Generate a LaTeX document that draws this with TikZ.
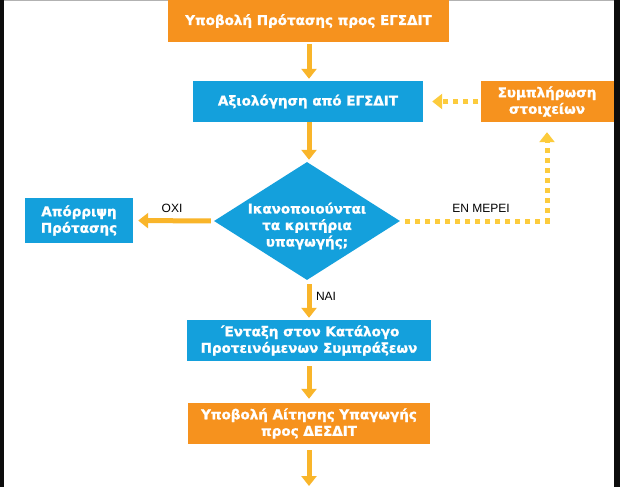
\documentclass[tikz,border=0pt]{standalone}
\usepackage{fontspec}
\setmainfont{Liberation Sans}
\newfontfamily\boxfont{DejaVu Sans Bold}[FakeBold=1.3]
\usetikzlibrary{arrows.meta,shapes.geometric}
\definecolor{boxorange}{HTML}{F6921E}
\definecolor{boxblue}{HTML}{14A0DC}
\definecolor{arrowy}{HTML}{F9B52A}
\definecolor{doty}{HTML}{FCCB3C}
\tikzset{
  boxbase/.style={draw=none, text=white, font=\boxfont\fontsize{13.5}{16.5}\selectfont, align=center, inner sep=0pt},
  obox/.style={boxbase, fill=boxorange},
  bbox/.style={boxbase, fill=boxblue},
  dtext/.style={text=white, font=\boxfont\fontsize{13.5}{16.5}\selectfont, align=center, inner sep=0pt},
  arr/.style={draw=arrowy, line width=5pt, -{Triangle[width=15pt,length=10pt]}},
  dotarr/.style={draw=doty, line width=5pt, dash pattern=on 5pt off 5pt, -{Triangle[width=15pt,length=10pt,fill=doty]}},
  lbl/.style={font=\fontsize{12}{14}\selectfont, text=black, inner sep=0pt}
}
\begin{document}
\begin{tikzpicture}[x=1pt,y=-1pt]
\useasboundingbox (0,0) rectangle (620,487);
\fill[white] (0,0) rectangle (620,487);
\fill[black!95] (0,0) rectangle (4,487);
\fill[black!95] (614,0) rectangle (620,487);
\draw[gray!60, line width=1pt] (4,0.5) -- (614,0.5);

\node[obox, minimum width=281, minimum height=42] (n1) at (308.5,21) {Υποβολή Πρότασης προς ΕΓΣΔΙΤ};
\node[bbox, minimum width=230, minimum height=41] (n2) at (308,101.5) {Αξιολόγηση από ΕΓΣΔΙΤ};
\node[obox, minimum width=133, minimum height=41] (n3) at (547,101.5) {Συμπλήρωση\\στοιχείων};
\node[diamond, fill=boxblue, draw=none, minimum width=186, minimum height=118, inner sep=0pt] (d) at (307,221) {};
\node[dtext] (dt) at (307,226) {Ικανοποιούνται\\τα κριτήρια\\υπαγωγής;};
\node[bbox, minimum width=108, minimum height=45] (n4) at (79,220.5) {Απόρριψη\\Πρότασης};
\node[bbox, minimum width=244, minimum height=41] (n5) at (309,340.5) {΄Ενταξη στον Κατάλογο\\Προτεινόμενων Συμπράξεων};
\node[obox, minimum width=242, minimum height=41] (n6) at (309,423.5) {Υποβολή Αίτησης Υπαγωγής\\προς ΔΕΣΔΙΤ};
\coordinate (end) at (309,486);

\node[lbl] (lno) at (172,208) {ΟΧΙ};
\node[lbl] (lpart) at (481,208) {ΕΝ ΜΕΡΕΙ};
\node[lbl] (lyes) at (326,296) {ΝΑΙ};

\draw[arr, shorten <=2pt, shorten >=2pt] (309,0 |- n1.south) -- (309,0 |- n2.north);
\draw[arr, shorten <=0pt, shorten >=2pt] (309,0 |- n2.south) -- (309,0 |- d.north);
\draw[arr, shorten <=3pt, shorten >=5pt] (d.west) -- (n4.east);
\draw[arr, shorten <=4pt, shorten >=2pt] (309,0 |- d.south) -- (309,0 |- n5.north);
\draw[arr, shorten <=5pt, shorten >=4pt] (n5.south) -- (n6.north);
\draw[arr, shorten <=6pt] (n6.south) -- (end);
\draw[dotarr, shorten <=5pt, shorten >=10pt] (d.east) -| (n3.south);
\draw[dotarr, shorten <=2pt, shorten >=9pt] (n3.west) -- (n2.east);
\end{tikzpicture}
\end{document}
